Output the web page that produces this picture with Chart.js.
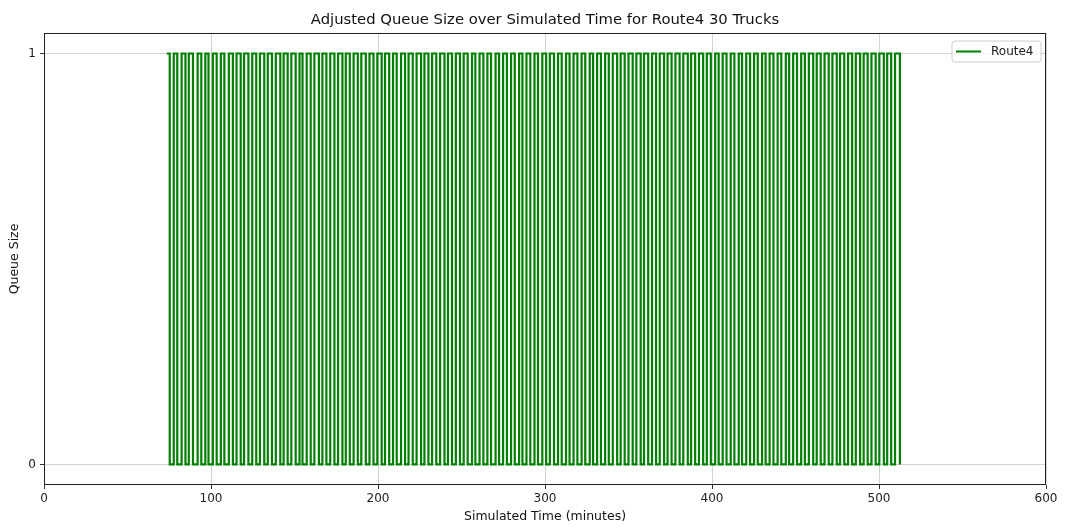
<!DOCTYPE html>
<html>
<head>
<meta charset="utf-8">
<title>Adjusted Queue Size over Simulated Time for Route4 30 Trucks</title>
<script src="https://cdn.jsdelivr.net/npm/chart.js@4.4.1/dist/chart.umd.min.js"></script>
<style>
  html, body { margin: 0; padding: 0; background: #ffffff; }
  #wrap { width: 1065px; height: 529px; }
</style>
</head>
<body>
<div id="wrap"><canvas id="chart" width="1065" height="529"></canvas></div>
<script>
// Simulated times (minutes) at which the Route4 queue size changes
const eventTimes = [
  73.5, 75.3, 77.7, 79.8, 82.4, 84.7, 86.7, 89.2, 92.0, 94.2,
  96.6, 98.5, 101.1, 103.4, 105.9, 108.0, 110.7, 113.1, 115.3, 117.8,
  119.8, 122.4, 124.7, 127.1, 129.3, 131.9, 134.0, 136.5, 138.8, 141.5,
  143.5, 145.9, 148.1, 150.7, 153.0, 154.8, 157.3, 159.7, 161.9, 164.6,
  166.7, 169.1, 171.4, 173.9, 176.1, 178.7, 180.7, 183.1, 185.4, 187.9,
  190.0, 192.7, 194.9, 197.3, 199.6, 202.2, 204.2, 206.7, 209.0, 211.2,
  213.8, 216.2, 218.3, 220.8, 223.1, 225.8, 227.8, 230.2, 232.4, 234.9,
  237.2, 239.8, 241.9, 244.3, 246.6, 249.1, 251.3, 253.7, 256.3, 258.3,
  260.8, 263.1, 265.5, 267.7, 270.4, 272.5, 274.9, 277.2, 279.7, 281.9,
  284.5, 286.5, 288.9, 291.2, 293.7, 295.8, 298.4, 300.7, 302.9, 305.4,
  307.8, 310.0, 312.6, 314.7, 317.1, 319.4, 321.9, 324.1, 326.8, 328.8,
  331.2, 333.5, 336.0, 338.2, 340.6, 343.2, 345.3, 347.7, 350.0, 352.5,
  354.7, 357.3, 359.3, 361.8, 364.1, 366.5, 368.7, 371.3, 373.4, 375.8,
  378.1, 380.6, 382.8, 385.5, 387.5, 389.9, 392.2, 394.7, 396.9, 399.3,
  401.9, 404.0, 406.4, 408.7, 411.2, 413.4, 416.0, 418.0, 420.5, 422.8,
  425.2, 427.4, 430.0, 432.1, 434.5, 436.8, 439.3, 441.5, 444.2, 446.2,
  448.6, 450.9, 453.4, 455.6, 458.0, 460.6, 462.7, 465.1, 467.4, 469.9,
  472.1, 474.7, 476.7, 479.2, 481.5, 483.9, 486.1, 488.7, 490.8, 493.2,
  495.5, 498.0, 500.2, 502.9, 504.9, 507.3, 509.6, 512.5
];

// Queue size held from each event time until the next one
const queueSizes = [
  1, 0, 1, 0, 1, 0, 1, 0, 1, 0,
  1, 0, 1, 0, 1, 0, 1, 0, 1, 0,
  1, 0, 1, 0, 1, 0, 1, 0, 1, 0,
  1, 0, 1, 0, 1, 0, 1, 0, 1, 0,
  1, 0, 1, 0, 1, 0, 1, 0, 1, 0,
  1, 0, 1, 0, 1, 0, 1, 0, 1, 0,
  1, 0, 1, 0, 1, 0, 1, 0, 1, 0,
  1, 0, 1, 0, 1, 0, 1, 0, 1, 0,
  1, 0, 1, 0, 1, 0, 1, 0, 1, 0,
  1, 0, 1, 0, 1, 0, 1, 0, 1, 0,
  1, 0, 1, 0, 1, 0, 1, 0, 1, 0,
  1, 0, 1, 0, 1, 0, 1, 0, 1, 0,
  1, 0, 1, 0, 1, 0, 1, 0, 1, 0,
  1, 0, 1, 0, 1, 0, 1, 0, 1, 0,
  1, 0, 1, 0, 1, 0, 1, 0, 1, 0,
  1, 0, 1, 0, 1, 0, 1, 0, 1, 0,
  1, 0, 1, 0, 1, 0, 1, 0, 1, 0,
  1, 0, 1, 0, 1, 0, 1, 0, 1, 0,
  1, 0, 1, 0, 1, 0, 1, 0
];

const seriesName = 'Route4';
const xTickValues = [0, 100, 200, 300, 400, 500, 600];
const yTickValues = [0, 1];
const yTickLabels = ['0', '1'];

const FONT = '"DejaVu Sans", "Liberation Sans", sans-serif';
const LINE_GREEN = '#008000';

const points = eventTimes.map((t, i) => ({ x: t, y: queueSizes[i] }));

// Full box frame around the plot plus the legend in the upper right
const framePlugin = {
  id: 'frameAndLegend',
  afterDraw(chart) {
    const { ctx, chartArea: a } = chart;
    ctx.save();
    ctx.strokeStyle = '#222222';
    ctx.lineWidth = 1;
    ctx.strokeRect(Math.round(a.left) + 0.5, Math.round(a.top) + 0.5,
                   Math.round(a.right - a.left) - 1, Math.round(a.bottom - a.top) - 1);

    // legend box
    const bx = 952, by = 41, bw = 89, bh = 21, r = 3;
    ctx.beginPath();
    ctx.moveTo(bx + r, by);
    ctx.lineTo(bx + bw - r, by);
    ctx.quadraticCurveTo(bx + bw, by, bx + bw, by + r);
    ctx.lineTo(bx + bw, by + bh - r);
    ctx.quadraticCurveTo(bx + bw, by + bh, bx + bw - r, by + bh);
    ctx.lineTo(bx + r, by + bh);
    ctx.quadraticCurveTo(bx, by + bh, bx, by + bh - r);
    ctx.lineTo(bx, by + r);
    ctx.quadraticCurveTo(bx, by, bx + r, by);
    ctx.closePath();
    ctx.fillStyle = 'rgba(255,255,255,0.8)';
    ctx.fill();
    ctx.strokeStyle = '#d0d0d0';
    ctx.lineWidth = 1;
    ctx.stroke();

    ctx.beginPath();
    ctx.moveTo(956, by + 10.5);
    ctx.lineTo(981, by + 10.5);
    ctx.strokeStyle = LINE_GREEN;
    ctx.lineWidth = 2;
    ctx.stroke();

    ctx.fillStyle = '#222222';
    ctx.font = '12px ' + FONT;
    ctx.textBaseline = 'middle';
    ctx.textAlign = 'left';
    ctx.fillText(seriesName, 991, by + 11);
    ctx.restore();
  }
};

new Chart(document.getElementById('chart'), {
  type: 'line',
  data: {
    datasets: [{
      label: seriesName,
      data: points,
      borderColor: LINE_GREEN,
      backgroundColor: LINE_GREEN,
      borderWidth: 2.2,
      pointRadius: 0,
      stepped: true,
      tension: 0,
      fill: false
    }]
  },
  options: {
    responsive: false,
    animation: false,
    devicePixelRatio: 1,
    layout: { padding: { left: 0, right: 19, top: 0, bottom: 0 } },
    plugins: {
      legend: { display: false },
      tooltip: { enabled: false },
      title: {
        display: true,
        fullSize: false,
        text: 'Adjusted Queue Size over Simulated Time for Route4 30 Trucks',
        color: '#111111',
        font: { family: FONT, size: 14.8, weight: 'normal' },
        padding: { top: 11, bottom: 4.2 }
      }
    },
    scales: {
      x: {
        type: 'linear',
        min: 0,
        max: 600,
        afterBuildTicks(scale) { scale.ticks = xTickValues.map(v => ({ value: v })); },
        afterFit(scale) { scale.height = 44; },
        ticks: {
          color: '#222222',
          font: { family: FONT, size: 12 },
          padding: 3,
          maxRotation: 0,
          autoSkip: false
        },
        grid: { color: '#d3d3d3', lineWidth: 1, tickLength: 4, tickColor: '#333333', drawTicks: true },
        border: { display: false },
        title: {
          display: true,
          text: 'Simulated Time (minutes)',
          color: '#111111',
          font: { family: FONT, size: 12.5 },
          padding: { top: 0, bottom: 4.5 }
        }
      },
      y: {
        type: 'linear',
        min: -0.05,
        max: 1.05,
        afterBuildTicks(scale) { scale.ticks = yTickValues.map(v => ({ value: v })); },
        afterFit(scale) { scale.width = 44; },
        ticks: {
          color: '#222222',
          font: { family: FONT, size: 12 },
          padding: 4,
          autoSkip: false,
          callback(value) {
            const i = yTickValues.indexOf(value);
            return i >= 0 ? yTickLabels[i] : '';
          }
        },
        grid: { color: '#d3d3d3', lineWidth: 1, tickLength: 4, tickColor: '#333333', drawTicks: true },
        border: { display: false },
        title: {
          display: true,
          text: 'Queue Size',
          color: '#111111',
          font: { family: FONT, size: 12.5 },
          padding: { top: 7.5, bottom: 0 }
        }
      }
    }
  },
  plugins: [framePlugin]
});
</script>
</body>
</html>
